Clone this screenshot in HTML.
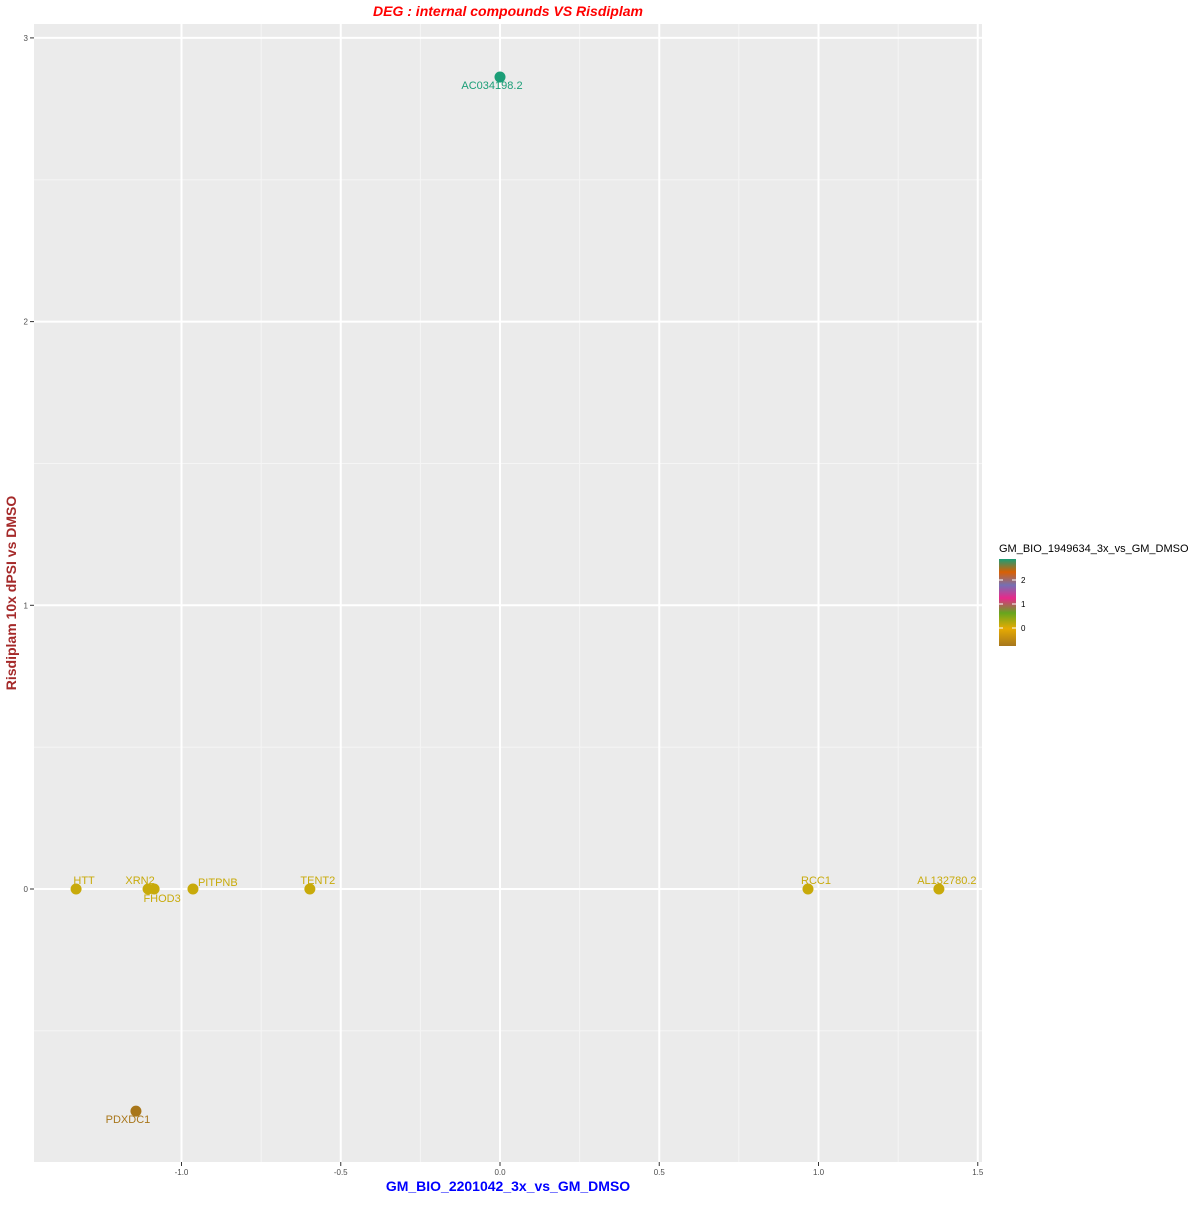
<!DOCTYPE html>
<html><head><meta charset="utf-8"><style>
body{margin:0;background:#fff;font-family:"Liberation Sans",sans-serif}
</style></head><body>
<svg id="chart" width="1200" height="1200" xmlns="http://www.w3.org/2000/svg" font-family="Liberation Sans, sans-serif">
<defs><linearGradient id="cg" x1="0" y1="1" x2="0" y2="0">
<stop offset="0" stop-color="#A6761D"/><stop offset="0.2" stop-color="#E6AB02"/><stop offset="0.38" stop-color="#66A61E"/><stop offset="0.55" stop-color="#E7298A"/><stop offset="0.7" stop-color="#7570B3"/><stop offset="0.85" stop-color="#D95F02"/><stop offset="1" stop-color="#1B9E77"/></linearGradient></defs>
<rect x="34" y="24" width="948" height="1138" fill="#EBEBEB"/>
<g id="grid"></g><g id="axes"></g><g id="pts"></g>
<text x="508" y="16" text-anchor="middle" fill="#FF0000" font-size="14" font-weight="bold" font-style="italic">DEG : internal compounds VS Risdiplam</text>
<text x="508" y="1191" text-anchor="middle" fill="#0000FF" font-size="14" font-weight="bold">GM_BIO_2201042_3x_vs_GM_DMSO</text>
<text transform="translate(16,593) rotate(-90)" text-anchor="middle" fill="#A52A2A" font-size="14" font-weight="bold">Risdiplam 10x dPSI vs DMSO</text>
<g>
<text x="999" y="552" font-size="11">GM_BIO_1949634_3x_vs_GM_DMSO</text>
<rect x="999" y="559" width="17" height="87" fill="url(#cg)"/>
<g id="lt"></g></g>
</svg>
<script>
const genes=["HTT","XRN2","FHOD3","PITPNB","TENT2","RCC1","AL132780.2","AC034198.2","PDXDC1"];
const xVals=[-1.331,-1.105,-1.086,-0.964,-0.597,0.967,1.378,0.0,-1.143];
const yVals=[0,0,0,0,0,0,0,2.862,-0.783];
const colorVals=[0,0,0,0,0,0,0,2.8,-0.4];
const xTicks=[-1.0,-0.5,0.0,0.5,1.0,1.5];
const yTicks=[0,1,2,3];
const legendTicks=[0,1,2];
const NS="http://www.w3.org/2000/svg";
const sx=v=>500+v*318.5, sy=v=>889-v*283.7;
function mk(tag,at,parent,txt){const e=document.createElementNS(NS,tag);for(const k in at)e.setAttribute(k,at[k]);if(txt!==undefined)e.textContent=txt;document.getElementById(parent).appendChild(e);return e;}
function col(v){if(v>2)return "#1B9E77";if(v<-0.2)return "#A8761A";return "#C8AA0A";}
const g="grid";
for(let i=0;i<xTicks.length-1;i++){const l=mk("line",{x1:sx((xTicks[i]+xTicks[i+1])/2),x2:sx((xTicks[i]+xTicks[i+1])/2),y1:24,y2:1162,stroke:"#F5F5F5","stroke-width":1},g);}
for(let i=0;i<yTicks.length;i++){const v=yTicks[i]-0.5;const l=mk("line",{x1:34,x2:982,y1:sy(v),y2:sy(v),stroke:"#F5F5F5","stroke-width":1},g);}
xTicks.forEach(t=>{const l=mk("line",{x1:sx(t),x2:sx(t),y1:24,y2:1162,stroke:"#fff","stroke-width":2},g);
const tk=mk("line",{x1:sx(t),x2:sx(t),y1:1162,y2:1166,stroke:"#333"},"axes");
const tx=mk("text",{x:sx(t),y:1175,"text-anchor":"middle","font-size":8,fill:"#4D4D4D"},"axes",t.toFixed(1));});
yTicks.forEach(t=>{const l=mk("line",{x1:34,x2:982,y1:sy(t),y2:sy(t),stroke:"#fff","stroke-width":2},g);
const tk=mk("line",{x1:30,x2:34,y1:sy(t),y2:sy(t),stroke:"#333"},"axes");
const tx=mk("text",{x:28,y:sy(t)+3,"text-anchor":"end","font-size":8,fill:"#4D4D4D"},"axes",String(t));});
const labOff={"HTT":[8,-5,"middle"],"XRN2":[-8,-5,"middle"],"FHOD3":[8,13,"middle"],"PITPNB":[5,-3,"start"],"TENT2":[8,-5,"middle"],"RCC1":[8,-5,"middle"],"AL132780.2":[8,-5,"middle"],"AC034198.2":[-8,12,"middle"],"PDXDC1":[-8,12,"middle"]};
genes.forEach((gn,i)=>{const c=col(colorVals[i]);
const p=mk("circle",{cx:sx(xVals[i]),cy:sy(yVals[i]),r:5.5,fill:c},"pts");
const o=labOff[gn];const t=mk("text",{x:sx(xVals[i])+o[0],y:sy(yVals[i])+o[1],"text-anchor":o[2],"font-size":11,fill:c},"pts",gn);});
legendTicks.forEach(t=>{const y=628-t*24;
const l=mk("line",{x1:999,x2:1003,y1:y,y2:y,stroke:"#fff"},"lt");
const l2=mk("line",{x1:1012,x2:1016,y1:y,y2:y,stroke:"#fff"},"lt");
const tx=mk("text",{x:1021,y:y+3,"font-size":8,fill:"#000"},"lt",String(t));});
</script>
</body></html>
